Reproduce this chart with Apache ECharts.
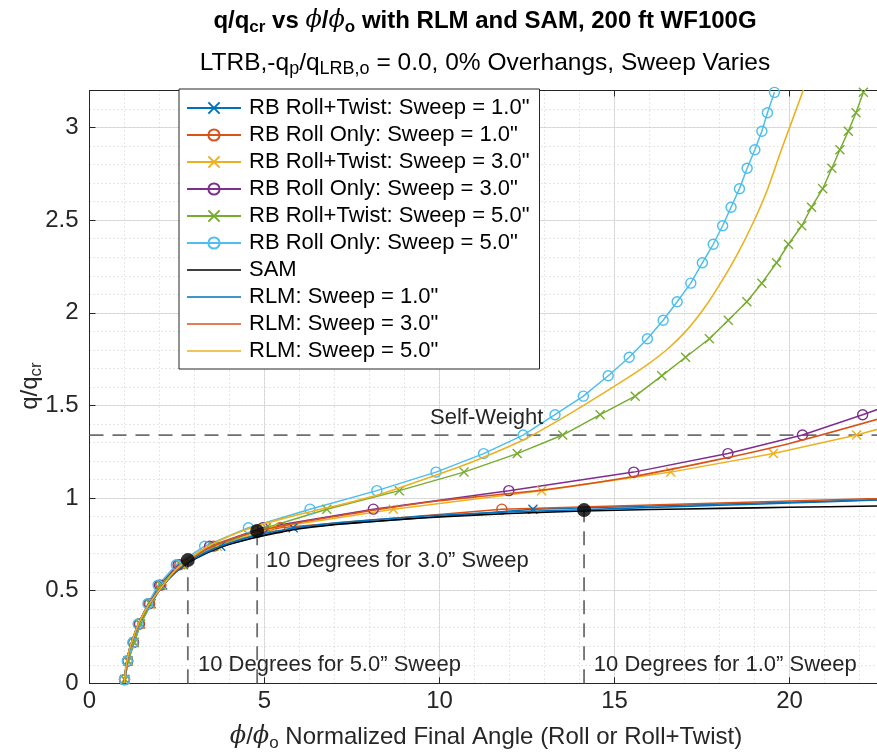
<!DOCTYPE html>
<html><head><meta charset="utf-8">
<script src="https://cdn.jsdelivr.net/npm/echarts@6/dist/echarts.min.js"></script>
<style>html,body{margin:0;padding:0;background:#fff}#c{width:877px;height:753px}</style>
</head><body><div id="c"></div>
<script>
// RB load steps (q/qcr) shared by all RB analyses
const loadSteps = [0.02,0.12,0.22,0.32,0.43,0.53,0.64,0.74,0.84,0.94,1.04,1.14,1.24,1.34,1.45,1.55,1.66,1.76,1.86,1.96,2.06,2.16,2.27,2.37,2.47,2.57,2.67,2.78,2.88,2.98,3.08,3.19];
// phi/phi_o for each RB analysis at those load steps
const rbRollTwist1 = [1.01,1.10,1.28,1.46,1.76,2.09,2.68,3.75,5.82,12.67,32.0];
const rbRollOnly1  = [1.00,1.09,1.26,1.43,1.72,2.04,2.58,3.55,5.44,11.78,30.3];
const rbRollTwist3 = [1.01,1.10,1.27,1.45,1.74,2.06,2.64,3.65,5.25,8.68,12.92,16.61,19.54,21.92,24.0];
const rbRollOnly3  = [1.00,1.09,1.25,1.41,1.69,2.00,2.53,3.43,4.95,8.11,11.98,15.55,18.24,20.37,22.09,23.6];
const rbRollTwist5 = [1.01,1.10,1.27,1.44,1.73,2.04,2.60,3.55,5.05,6.78,8.85,10.70,12.22,13.52,14.59,15.59,16.35,17.03,17.71,18.25,18.78,19.21,19.63,19.97,20.35,20.63,20.95,21.21,21.44,21.68,21.90,22.11];
const rbRollOnly5  = [1.00,1.08,1.24,1.39,1.67,1.96,2.48,3.29,4.54,6.30,8.21,9.90,11.26,12.39,13.30,14.11,14.82,15.42,15.94,16.39,16.79,17.18,17.51,17.82,18.09,18.33,18.57,18.79,19.01,19.21,19.37,19.57];
// SAM and RLM curves
const samX = [1.00,1.03,1.08,1.15,1.24,1.35,1.5,1.68,1.9,2.15,2.45,2.81,3.3,4.0,4.8,6.0,7.0,8.0,9.0,10.0,12.0,14.1,16.0,18.0,20.0,22.6];
const samY = [0,0.07,0.13,0.19,0.24,0.3,0.36,0.42,0.48,0.54,0.6,0.65,0.7,0.75,0.79,0.835,0.857,0.872,0.886,0.898,0.917,0.93,0.938,0.944,0.95,0.957];
const rlm1X = [1.00,1.03,1.08,1.15,1.24,1.35,1.5,1.68,1.9,2.15,2.45,2.81,3.3,4.0,4.8,6.0,7.0,8.0,9.0,10.0,12.0,14.1,16.0,18.0,20.0,22.6];
const rlm1Y = [0,0.07,0.13,0.19,0.24,0.3,0.36,0.42,0.48,0.54,0.6,0.652,0.705,0.757,0.8,0.842,0.865,0.881,0.895,0.907,0.925,0.937,0.949,0.961,0.973,0.99];
const rlm3X = [1.00,1.03,1.08,1.15,1.24,1.35,1.5,1.68,1.9,2.15,2.45,2.81,3.3,4.0,4.8,6.0,7.0,8.3,10.0,11.5,13.06,15.5,17.82,20.0,22.6];
const rlm3Y = [0,0.07,0.13,0.19,0.24,0.3,0.36,0.42,0.48,0.54,0.605,0.66,0.72,0.775,0.822,0.868,0.9,0.94,0.985,1.015,1.046,1.115,1.202,1.295,1.43];
const rlm5X = [1.00,1.03,1.08,1.15,1.24,1.35,1.5,1.68,1.9,2.15,2.45,2.81,3.3,4.0,4.8,5.6,6.5,7.4,8.3,9.73,11.0,12.39,13.25,14.2,15.35,16.01,16.55,17.06,17.58,18.06,18.52,18.97,19.38,19.73,20.08,20.39,20.6];
const rlm5Y = [0,0.07,0.13,0.19,0.24,0.3,0.36,0.42,0.48,0.54,0.61,0.665,0.73,0.795,0.85,0.893,0.935,0.975,1.02,1.112,1.2,1.313,1.403,1.51,1.646,1.73,1.81,1.905,2.03,2.17,2.32,2.49,2.67,2.86,3.04,3.2,3.31];
// annotations
const tenDegX = [2.81, 4.79, 14.13];
const tenDegY = [0.665, 0.822, 0.935];
const tenDegLabels = ['10 Degrees for 5.0\u201D Sweep', '10 Degrees for 3.0\u201D Sweep', '10 Degrees for 1.0\u201D Sweep'];
const tenDegLabelPos = [[3.1, 0.099], [5.04, 0.66], [14.41, 0.099]];
const selfWeight = 1.34;
const selfWeightLabel = 'Self-Weight';
const selfWeightLabelPos = [9.73, 1.432];
const xTicks = [0, 5, 10, 15, 20];
const yTicks = [0, 0.5, 1, 1.5, 2, 2.5, 3];

const FONT = '"Liberation Sans", Arial, Helvetica, sans-serif';
const C = {blue:'#0072BD', orange:'#D95319', yellow:'#EDB120', purple:'#7E2F8E', green:'#77AC30', cyan:'#4DBEEE', black:'#000000'};
const SYM_X = 'path://M0,0L10,10M0,10L10,0';
const SYM_O = 'circle';

function rb(name, xs, color, sym) {
  return {
    name, type: 'line', data: xs.map((x, i) => [x, loadSteps[i]]),
    symbol: sym, symbolSize: sym === SYM_O ? 10 : 9, showAllSymbol: true,
    lineStyle: {color, width: 1.5},
    itemStyle: {color: 'rgba(0,0,0,0)', borderColor: color, borderWidth: 1.4},
    emphasis: {disabled: true}, z: 3
  };
}
function curve(name, xs, ys, color) {
  return {
    name, type: 'line', data: xs.map((x, i) => [x, ys[i]]), showSymbol: false, symbol: 'none', smooth: 0.3,
    lineStyle: {color, width: 1.6}, itemStyle: {color}, emphasis: {disabled: true}, z: 4
  };
}
const names = ['RB Roll+Twist: Sweep = 1.0"', 'RB Roll Only: Sweep = 1.0"', 'RB Roll+Twist: Sweep = 3.0"', 'RB Roll Only: Sweep = 3.0"', 'RB Roll+Twist: Sweep = 5.0"', 'RB Roll Only: Sweep = 5.0"', 'SAM', 'RLM: Sweep = 1.0"', 'RLM: Sweep = 3.0"', 'RLM: Sweep = 5.0"'];
const curveColors = [C.black, C.blue, C.orange, C.yellow];
const LINE_ICON = 'path://M0,0L54,0L54,1.6L0,1.6Z';
const legendData = names.map((n, i) => i < 6 ? n : {name: n, icon: LINE_ICON, itemStyle: {color: curveColors[i - 6], borderWidth: 0}});

const dash = {color: '#6e6e6e', width: 1.8, type: [14, 9]};
const annSeries = [];
annSeries.push({type: 'line', data: [[0, selfWeight], [22.5, selfWeight]], symbol: 'none', lineStyle: dash, z: 2, silent: true});
tenDegX.forEach((x, i) => annSeries.push({type: 'line', data: [[x, 0], [x, tenDegY[i]]], symbol: 'none', lineStyle: dash, z: 2, silent: true}));
annSeries.push({type: 'scatter', data: tenDegX.map((x, i) => [x, tenDegY[i]]), symbol: 'circle', symbolSize: 14, itemStyle: {color: '#000'}, z: 6, silent: true});

const series = [
  rb(names[0], rbRollTwist1, C.blue, SYM_X),
  rb(names[1], rbRollOnly1, C.orange, SYM_O),
  rb(names[2], rbRollTwist3, C.yellow, SYM_X),
  rb(names[3], rbRollOnly3, C.purple, SYM_O),
  rb(names[4], rbRollTwist5, C.green, SYM_X),
  rb(names[5], rbRollOnly5, C.cyan, SYM_O),
  curve(names[6], samX, samY, C.black),
  curve(names[7], rlm1X, rlm1Y, C.blue),
  curve(names[8], rlm3X, rlm3Y, C.orange),
  curve(names[9], rlm5X, rlm5Y, C.yellow)
].concat(annSeries);

const GL = 89.5, GT = 90.5, GW = 787.5, GH = 592.8;
const XMAX = 22.5;
const axisCol = '#262626';
const TICK_FS = 24;
const chart = echarts.init(document.getElementById('c'), null, {renderer: 'canvas'});
chart.setOption({
  animation: false,
  backgroundColor: '#fff',
  grid: {left: GL, top: GT, width: GW, height: GH, show: false},
  xAxis: [
    {type: 'value', min: 0, max: XMAX, interval: 5, position: 'bottom',
     axisLine: {show: true, onZero: false, lineStyle: {color: axisCol}},
     axisTick: {show: true, inside: true, length: 6, lineStyle: {color: axisCol}},
     axisLabel: {fontSize: TICK_FS, fontFamily: FONT, color: axisCol, margin: 6, showMaxLabel: false,
       formatter: v => xTicks.includes(v) ? String(v) : ''},
     splitLine: {show: true, lineStyle: {color: '#dedede', width: 1}}},
    {type: 'value', min: 0, max: XMAX, interval: 5, position: 'top',
     axisLine: {show: true, onZero: false, lineStyle: {color: axisCol}},
     axisTick: {show: true, inside: true, length: 6, lineStyle: {color: axisCol}},
     axisLabel: {show: false}, splitLine: {show: false}},
    {type: 'value', min: 0, max: XMAX, interval: 1, position: 'bottom',
     axisLine: {show: false}, axisTick: {show: false}, axisLabel: {show: false},
     splitLine: {show: true, lineStyle: {color: '#cccccc', width: 1, type: [1, 3]}}}
  ],
  yAxis: [
    {type: 'value', min: 0, max: 3.2, interval: 0.5, position: 'left',
     axisLine: {show: true, onZero: false, lineStyle: {color: axisCol}},
     axisTick: {show: true, inside: true, length: 6, lineStyle: {color: axisCol}},
     axisLabel: {fontSize: TICK_FS, fontFamily: FONT, color: axisCol, margin: 11, showMaxLabel: false,
       formatter: v => yTicks.includes(v) ? String(v) : ''},
     splitLine: {show: true, lineStyle: {color: '#dedede', width: 1}}},
    {type: 'value', min: 0, max: 3.2, interval: 0.1, position: 'right',
     axisLine: {show: false}, axisTick: {show: false}, axisLabel: {show: false},
     splitLine: {show: true, lineStyle: {color: '#cccccc', width: 1, type: [1, 3]}}}
  ],
  legend: {
    orient: 'vertical', left: 179, top: 89, itemWidth: 54, itemHeight: 14, itemGap: 5,
    padding: [8, 10, 7, 7], backgroundColor: '#fff', borderColor: axisCol, borderWidth: 1,
    selectedMode: false, data: legendData,
    textStyle: {fontSize: 22, fontFamily: FONT, color: '#000', lineHeight: 22, padding: [0, 0, 0, 3]}
  },
  series
});

// text annotations anchored at data coordinates through the chart's own scales
const annTexts = tenDegLabelPos.map((p, i) => ({pos: p, text: tenDegLabels[i]}));
annTexts.push({pos: selfWeightLabelPos, text: selfWeightLabel});
const annGraphics = annTexts.map(a => {
  const px = chart.convertToPixel({xAxisIndex: 0, yAxisIndex: 0}, a.pos);
  return {type: 'text', x: px[0], y: px[1], z: 50, silent: true,
    style: {text: a.text, font: '22px ' + FONT, fill: axisCol, align: 'left', verticalAlign: 'middle'}};
});

chart.setOption({graphic: [
  {type: 'text', x: 485, y: 21, z: 100, style: {
    text: '{m|q/q}{s|cr}{m| vs }{p|\u03D5}{m|/}{p|\u03D5}{s|o}{m| with RLM and SAM, 200 ft WF100G}',
    align: 'center', verticalAlign: 'middle', fill: '#000',
    rich: {
      m: {fontSize: 24, fontWeight: 'bold', fontFamily: FONT, lineHeight: 30, fill: '#000'},
      s: {fontSize: 17, fontWeight: 'bold', fontFamily: FONT, lineHeight: 10, verticalAlign: 'bottom', fill: '#000'},
      p: {fontSize: 24, fontStyle: 'italic', fontFamily: '"DejaVu Serif", serif', lineHeight: 30, fill: '#000'}
    }}},
  {type: 'text', x: 485, y: 63, z: 100, style: {
    text: '{m|LTRB,-q}{s|p}{m|/q}{s|LRB,o}{m| = 0.0, 0% Overhangs, Sweep Varies}',
    align: 'center', verticalAlign: 'middle', fill: '#000',
    rich: {
      m: {fontSize: 24.5, fontFamily: FONT, lineHeight: 30, fill: '#000'},
      s: {fontSize: 18, fontFamily: FONT, lineHeight: 10, verticalAlign: 'bottom', fill: '#000'}
    }}},
  {type: 'text', x: 486, y: 737, z: 100, style: {
    text: '{p|\u03D5}{m|/}{p|\u03D5}{s|o}{m| Normalized Final Angle (Roll or Roll+Twist)}',
    align: 'center', verticalAlign: 'middle', fill: axisCol,
    rich: {
      m: {fontSize: 24, fontFamily: FONT, lineHeight: 30, fill: axisCol},
      s: {fontSize: 17, fontFamily: FONT, lineHeight: 10, verticalAlign: 'bottom', fill: axisCol},
      p: {fontSize: 24, fontStyle: 'italic', fontFamily: '"DejaVu Serif", serif', lineHeight: 30, fill: axisCol}
    }}},
  {type: 'text', x: 30, y: 386, rotation: Math.PI / 2, z: 100, style: {
    text: '{m|q/q}{s|cr}',
    align: 'center', verticalAlign: 'middle', fill: axisCol,
    rich: {
      m: {fontSize: 24, fontFamily: FONT, lineHeight: 30, fill: axisCol},
      s: {fontSize: 17, fontFamily: FONT, lineHeight: 10, verticalAlign: 'bottom', fill: axisCol}
    }}}
].concat(annGraphics)});
</script></body></html>
